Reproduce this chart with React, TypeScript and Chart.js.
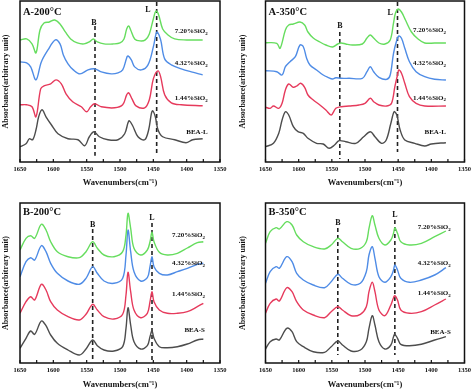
import React, { useEffect, useRef } from "react";
import { Chart, registerables } from "chart.js";
Chart.register(...registerables);

const FONT = "'Liberation Serif', 'Times New Roman', Times, serif";
const COLORS = ["#66dd5e", "#4f8ce6", "#e63a5c", "#4d4d4d"];
const minorTicks = [1650, 1625, 1600, 1575, 1550, 1525, 1500, 1475, 1450, 1425, 1400, 1375, 1350];
const namesA = ["7.20%SiO2", "4.32%SiO2", "1.44%SiO2", "BEA-L"];
const namesB = ["7.20%SiO2", "4.32%SiO2", "1.44%SiO2", "BEA-S"];
const markText = ["B", "L"];

// ---------- A-200°C ----------
const a200Wn720 = [1650,1640,1632,1626,1620,1614,1606,1598,1590,1582,1574,1564,1554,1546,1540,1534,1524,1510,1500,1494,1490,1487,1484,1478,1470,1462,1456,1450,1446,1442,1436,1428,1418,1400,1376];
const a200Ab720 = [120,121,116,107,130,137,138,140,136,128,121,117,116,118,121,118,116,116,117,121,131,134,130,121,119,120,126,141,149,145,131,125,121,120,120];
const a200Wn432 = [1650,1640,1634,1626,1618,1608,1597,1590,1585,1578,1570,1560,1548,1538,1528,1513,1503,1496,1490,1488,1483,1478,1468,1458,1450,1446,1444,1439,1433,1423,1408,1393,1376];
const a200Ab432 = [98,97,93,80,98,110,120,116,105,96,90,86,90,91,88,86,87,90,102,104,100,93,90,95,113,126,128,120,101,95,91,88,85];
const a200Wn144 = [1650,1640,1632,1626,1619,1614,1604,1596,1588,1581,1571,1558,1550,1544,1538,1528,1508,1496,1490,1487,1482,1476,1463,1456,1450,1443,1439,1433,1423,1408,1376];
const a200Ab144 = [55,55,53,43,71,74,76,80,76,66,58,53,48,53,56,53,52,55,65,67,61,54,52,60,81,89,83,65,57,55,54];
const a200WnBea = [1650,1641,1636,1631,1626,1622,1617,1611,1603,1593,1578,1563,1553,1546,1539,1531,1518,1503,1493,1488,1486,1481,1473,1463,1457,1453,1451,1447,1443,1436,1418,1401,1391,1376];
const a200AbBea = [13,16,21,20,30,43,50,43,35,26,21,20,14,23,28,23,20,20,26,37,39,34,23,20,30,46,49,43,30,23,20,17,20,21];

// ---------- A-350°C ----------
const a350Wn720 = [1650,1633,1628,1620,1615,1608,1598,1591,1586,1578,1568,1559,1549,1541,1536,1529,1519,1504,1497,1492,1487,1479,1470,1462,1457,1454,1450,1445,1439,1430,1420,1410,1395,1378];
const a350Ab720 = [119.3,118.7,113.7,132,137,138,140,137,130,124,120,117,115,118,119,118,117,118,124,127,124,119,118,122,139,149,153,150,142,130,123,119,119,119];
const a350Wn432 = [1650,1633,1625,1620,1613,1605,1598,1593,1588,1583,1573,1563,1556,1549,1544,1536,1524,1504,1497,1492,1487,1479,1467,1462,1457,1452,1449,1445,1440,1433,1423,1410,1395,1378];
const a350Ab432 = [91.3,90.3,87,95.3,100.3,105.3,117,115.3,103.7,97,92,87,84.7,83,84.3,83.7,83.7,83.7,90.3,95.3,90.3,84.7,82.7,87,108.7,122,126,123.7,113.7,100.3,90.3,85.3,82.7,82];
const a350Wn144 = [1650,1643,1638,1630,1625,1620,1615,1608,1603,1597,1591,1586,1578,1568,1559,1551,1544,1536,1524,1509,1500,1492,1487,1479,1467,1460,1455,1451,1449,1445,1440,1433,1423,1410,1378];
const a350Ab144 = [54.7,53.7,56,53.7,58.7,72,78,74.7,76,78.7,74.7,67,62,57,52,47,53.7,55.3,56,57,58.7,63.7,60.3,57,56,58.7,75.3,87,92,88.7,78.7,65.3,58.7,56,56];
const a350WnBea = [1650,1638,1630,1625,1620,1615,1608,1601,1593,1586,1573,1563,1554,1546,1539,1529,1514,1502,1492,1485,1475,1468,1461,1456,1452,1447,1440,1425,1410,1400,1378];
const a350AbBea = [15.3,18.7,28.7,42,50.3,47,35.3,30.3,28.7,23.7,18.7,18,13.7,17,21.3,20.3,18.7,25.3,30.3,25.3,18.7,22,38.7,50.3,47,32,22,18.7,16,18,19.3];

// ---------- B-200°C ----------
const b200Wn = [1650,1641,1634,1628,1618,1611,1604,1594,1578,1561,1551,1541,1534,1524,1509,1496,1491,1488,1484,1479,1469,1459,1455,1452,1449,1441,1429,1414,1399,1384,1375];
const b200Ab720 = [113,124.7,127.3,124.7,138.7,133,121.3,111.3,106.3,105.3,111.3,121.3,114.7,108,106.3,111.3,128,149.7,134.7,114.7,108,113,121.3,130.7,121.3,110.7,108,109.7,115,120.3,121.3];
const b200Ab432 = [86.3,101.3,105.3,103,117.3,111.3,99.7,89.7,82,78.7,84.7,96.3,89.7,82,79.7,84.7,108,133,111.3,91.3,82,85.3,96.3,106.3,96.3,89.7,88,91.3,94.7,98.7,99.7];
const b200Ab144 = [49.7,61.3,66.3,63,78.7,73,61.3,53,46.3,43,48.7,58.7,53,46.3,44,48.7,68,90.7,71.3,53,45.3,49.7,61.3,71.3,61.3,53,49.7,49.7,51.3,56.3,59.7];
const b200AbBea = [14.7,24.7,32,28.7,42,37.3,28,19.7,13,8,14,23,17.3,13,12,16.3,34.7,55.3,38,21.3,14,17.3,26.3,32,24.7,16.3,15.3,16.3,19,23,24];

// ---------- B-350°C ----------
const b350Wn = [1650,1643,1634,1629,1618,1610,1603,1593,1578,1561,1551,1541,1534,1521,1507,1498,1494,1489,1485,1479,1470,1461,1457,1455,1451,1446,1433,1415,1395,1378];
const b350Ab720 = [119.7,131.3,135.3,134,141.3,138,128,121.3,116.3,114,118,124.7,121.3,114.7,114.7,121.3,134.7,147.3,138,124.7,118,123,129.7,135.3,129.7,121.3,118,119.7,126.3,132];
const b350Ab432 = [79.7,91.3,96.3,94.7,106.3,101.3,89.7,83,78,75.3,81.3,88.7,84.7,78.7,79.7,91.3,108,116.3,104.7,86.3,80.7,86.3,93,98,93,84.7,80.7,83,88,95.3];
const b350Ab144 = [49.7,59.7,64,62,75.3,71.3,61.3,53,48,45.3,51.3,56.3,53,47.3,48.7,56.3,71.3,80.7,71.3,53,47.3,58,65.3,67.3,63,53,49.7,51.3,58,64];
const b350AbBea = [14,21.3,24,23,34.7,31.3,21.3,16.3,11.3,10.7,16.3,22,18,12,13,21.3,34.7,47.3,38,21.3,14,18,26.3,28.7,24.7,18.7,17.3,18.7,23,26.3];

// dashed marker lines (B, L)
const a200DashWn = [1537.5, 1445];
const a200DashTop = [134, 158];
const a200DashBot = [4, 6];
const a200MarkWn = [1539, 1458];
const a200MarkAb = [137, 150];
const a200NameAb = [129, 97, 62, 28];

const a350DashWn = [1538, 1451];
const a350DashTop = [130, 160];
const a350DashBot = [3, 10];
const a350MarkWn = [1538, 1462];
const a350MarkAb = [136, 149];
const a350NameAb = [132, 98.7, 64.3, 30.3];

const b200DashWn = [1541, 1452];
const b200DashTop = [134, 140];
const b200DashBot = [3, 3];
const b200MarkWn = [1541, 1452];
const b200MarkAb = [138, 145];
const b200NameAb = [128, 99.7, 68.7, 33];

const b350DashWn = [1541, 1455];
const b350DashTop = [135, 143];
const b350DashBot = [8, 8];
const b350MarkWn = [1541, 1455];
const b350MarkAb = [140, 148];
const b350NameAb = [136, 99.7, 69.7, 31.3];

function pts(wn: number[], ab: number[]) {
  return wn.map((x, i) => ({ x, y: ab[i] }));
}

type PanelDef = {
  title: string;
  series: { x: number; y: number }[][];
  names: string[];
  nameWn: number;
  nameAb: number[];
  dashWn: number[];
  dashTop: number[];
  dashBot: number[];
  markWn: number[];
  markAb: number[];
  yMin: number;
  yMax: number;
  left: boolean;
  top: boolean;
};

const panels: PanelDef[] = [
  {
    title: "A-200°C",
    series: [pts(a200Wn720, a200Ab720), pts(a200Wn432, a200Ab432), pts(a200Wn144, a200Ab144), pts(a200WnBea, a200AbBea)],
    names: namesA, nameWn: 1368.5, nameAb: a200NameAb,
    dashWn: a200DashWn, dashTop: a200DashTop, dashBot: a200DashBot,
    markWn: a200MarkWn, markAb: a200MarkAb,
    yMin: -2.3, yMax: 159, left: true, top: true,
  },
  {
    title: "A-350°C",
    series: [pts(a350Wn720, a350Ab720), pts(a350Wn432, a350Ab432), pts(a350Wn144, a350Ab144), pts(a350WnBea, a350AbBea)],
    names: namesA, nameWn: 1378, nameAb: a350NameAb,
    dashWn: a350DashWn, dashTop: a350DashTop, dashBot: a350DashBot,
    markWn: a350MarkWn, markAb: a350MarkAb,
    yMin: 0, yMax: 161, left: false, top: true,
  },
  {
    title: "B-200°C",
    series: [pts(b200Wn, b200Ab720), pts(b200Wn, b200Ab432), pts(b200Wn, b200Ab144), pts(b200Wn, b200AbBea)],
    names: namesB, nameWn: 1372.5, nameAb: b200NameAb,
    dashWn: b200DashWn, dashTop: b200DashTop, dashBot: b200DashBot,
    markWn: b200MarkWn, markAb: b200MarkAb,
    yMin: 0, yMax: 160, left: true, top: false,
  },
  {
    title: "B-350°C",
    series: [pts(b350Wn, b350Ab720), pts(b350Wn, b350Ab432), pts(b350Wn, b350Ab144), pts(b350Wn, b350AbBea)],
    names: namesB, nameWn: 1370.7, nameAb: b350NameAb,
    dashWn: b350DashWn, dashTop: b350DashTop, dashBot: b350DashBot,
    markWn: b350MarkWn, markAb: b350MarkAb,
    yMin: 0, yMax: 160, left: false, top: false,
  },
];

function makeDecor(p: PanelDef) {
  return {
    id: "decor",
    afterDatasetsDraw(chart: any) {
      const { ctx, chartArea: a, scales } = chart;
      const x = scales.x;
      const y = scales.y;
      ctx.save();
      ctx.strokeStyle = "#111";
      ctx.lineWidth = 1.5;
      ctx.strokeRect(a.left, a.top, a.right - a.left, a.bottom - a.top);
      ctx.lineWidth = 1.2;
      for (const t of minorTicks) {
        const px = x.getPixelForValue(t);
        ctx.beginPath();
        ctx.moveTo(px, a.bottom);
        ctx.lineTo(px, a.bottom - 3);
        ctx.stroke();
      }
      ctx.fillStyle = "#111";
      ctx.textBaseline = "middle";
      ctx.textAlign = "left";
      ctx.font = `bold 10.5px ${FONT}`;
      ctx.fillText(p.title, a.left + 3, a.top + (p.top ? 11 : 9));
      ctx.font = `bold 8px ${FONT}`;
      ctx.textAlign = "center";
      markText.forEach((t, i) => {
        ctx.fillText(t, x.getPixelForValue(p.markWn[i]), y.getPixelForValue(p.markAb[i]));
      });
      ctx.textAlign = "left";
      p.names.forEach((name, i) => {
        const right = x.getPixelForValue(p.nameWn);
        const py = y.getPixelForValue(p.nameAb[i]);
        const hasSub = name.endsWith("SiO2");
        const main = hasSub ? name.slice(0, -1) : name;
        ctx.font = `bold 7px ${FONT}`;
        const wMain = ctx.measureText(main).width;
        let wSub = 0;
        if (hasSub) {
          ctx.font = `bold 5px ${FONT}`;
          wSub = ctx.measureText("2").width;
        }
        const x0 = right - wMain - wSub;
        ctx.font = `bold 7px ${FONT}`;
        ctx.fillText(main, x0, py);
        if (hasSub) {
          ctx.font = `bold 5px ${FONT}`;
          ctx.fillText("2", x0 + wMain, py + 2.5);
        }
      });
      ctx.restore();
    },
  };
}

function Panel({ p, left, top }: { p: PanelDef; left: number; top: number }) {
  const ref = useRef<HTMLCanvasElement>(null);
  useEffect(() => {
    if (!ref.current) return;
    const datasets: any[] = p.series.map((s, i) => ({
      data: s,
      borderColor: COLORS[i],
      borderWidth: 1.4,
      pointRadius: 0,
      tension: 0.35,
      fill: false,
    }));
    p.dashWn.forEach((w, i) => {
      datasets.push({
        data: [
          { x: w, y: p.dashTop[i] },
          { x: w, y: p.dashBot[i] },
        ],
        borderColor: "#222",
        borderWidth: 1.6,
        borderDash: [4, 3],
        pointRadius: 0,
        tension: 0,
        fill: false,
      });
    });
    const chart = new Chart(ref.current, {
      type: "line",
      data: { datasets },
      options: {
        responsive: false,
        animation: false,
        devicePixelRatio: 1,
        events: [],
        layout: { padding: { top: p.top ? 1 : 8, right: p.left ? 17 : 6, left: 0, bottom: 0 } },
        plugins: { legend: { display: false }, tooltip: { enabled: false } },
        scales: {
          x: {
            type: "linear",
            min: 1350,
            max: 1650,
            reverse: true,
            grid: { display: false, drawTicks: false },
            border: { display: false },
            ticks: {
              stepSize: 50,
              padding: 3,
              color: "#111",
              maxRotation: 0,
              autoSkip: false,
              font: { family: FONT, size: 6.5, weight: "bold" },
              callback: (v: any) => String(v),
            },
            title: {
              display: true,
              text: "Wavenumbers(cm⁻¹)",
              color: "#111",
              font: { family: FONT, size: 8.5, weight: "bold" },
              padding: { top: 0, bottom: p.top ? 7 : 0 },
            },
            afterFit: (s: any) => {
              s.height = p.top ? 33 : 27;
            },
          },
          y: {
            type: "linear",
            min: p.yMin,
            max: p.yMax,
            grid: { display: false, drawTicks: false },
            border: { display: false },
            ticks: { display: false },
            title: {
              display: true,
              text: "Absorbance(arbitrary unit)",
              color: "#111",
              font: { family: FONT, size: 8, weight: "bold" },
              padding: { top: 1.5, bottom: 0 },
            },
            afterFit: (s: any) => {
              s.width = p.left ? 20 : 28.5;
            },
          },
        },
      } as any,
      plugins: [makeDecor(p)],
    });
    return () => chart.destroy();
  }, []);
  return (
    <canvas
      ref={ref}
      width={237}
      height={195}
      style={{ position: "absolute", left, top, width: 237, height: 195, display: "block" }}
    />
  );
}

export default function App() {
  return (
    <div style={{ position: "absolute", left: 0, top: 0, width: 474, height: 390, overflow: "hidden", background: "#fff" }}>
      <Panel p={panels[0]} left={0} top={0} />
      <Panel p={panels[1]} left={237} top={0} />
      <Panel p={panels[2]} left={0} top={195} />
      <Panel p={panels[3]} left={237} top={195} />
    </div>
  );
}
